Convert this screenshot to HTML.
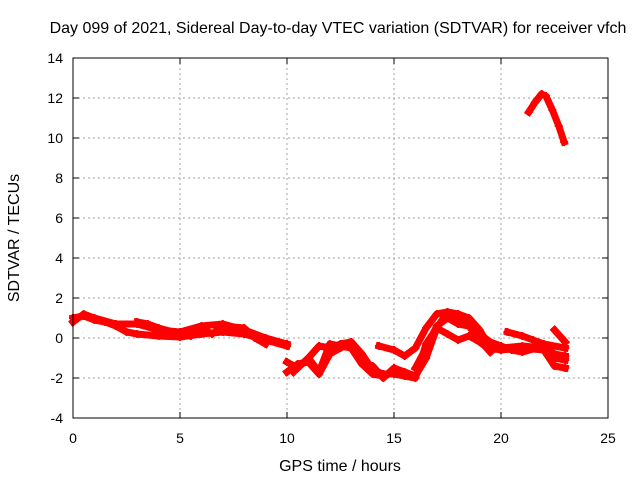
<!DOCTYPE html>
<html><head><meta charset="utf-8"><style>
body{margin:0;background:#fff;}
svg{display:block;font-family:"Liberation Sans",sans-serif;}
</style></head><body>
<svg id="chart" width="640" height="480">
<text x="338" y="33" text-anchor="middle" font-size="16">Day 099 of 2021, Sidereal Day-to-day VTEC variation (SDTVAR) for receiver vfch</text>
<text x="340" y="471" text-anchor="middle" font-size="16">GPS time / hours</text>
<text transform="translate(19,238) rotate(-90)" text-anchor="middle" font-size="16">SDTVAR / TECUs</text>
<g id="grid"></g><g id="ticks"></g><g id="series"></g>
<rect x="73" y="58" width="535" height="360" fill="none" stroke="#000" stroke-width="1"/>
</svg>
<script>
const xTicks=[0,5,10,15,20,25];
const yTicks=[-4,-2,0,2,4,6,8,10,12,14];
const s1=[[0,1.0],[0.5,1.1],[1,0.9],[1.5,0.8],[2,0.6],[2.5,0.3],[3,0.2],[4,0.1],[5,0.05],[6,0.2],[7,0.3],[8,0.2],[9,-0.1],[10,-0.4]];
const s2=[[0,0.8],[0.5,1.2],[1,1.0],[2,0.7],[3,0.7],[4,0.4],[5,0.3],[6,0.6],[7,0.7],[8,0.4],[9,0.0],[10,-0.3]];
const s3=[[3,0.8],[3.5,0.7],[4,0.5],[5,0.2],[5.5,0.1],[6,0.5],[6.5,0.2],[7,0.6],[8,0.5],[8.5,0.0],[9,-0.3]];
const s4=[[10,-1.2],[10.5,-1.5],[11,-1.0],[11.5,-0.4],[12,-0.5],[12.5,-0.3],[13,-0.2],[13.5,-1.2],[14,-1.4],[14.5,-2.0],[15,-1.5],[15.5,-1.7],[16,-1.9],[16.5,-1.0],[17,0.5],[17.5,1.3],[18,1.2],[18.5,1.0],[19,0.4],[19.5,-0.5],[20,-0.6],[21,-0.5],[22,-0.6],[22.5,-1.4],[23,-1.5]];
const s5=[[10,-1.7],[10.5,-1.3],[11,-1.2],[11.5,-1.8],[12,-0.8],[12.5,-0.5],[13,-0.2],[13.5,-0.8],[14,-1.6],[14.5,-1.8],[15,-1.8],[15.5,-1.9],[16,-2.0],[16.5,-0.3],[17,0.5],[17.5,0.2],[18,-0.1],[18.5,0.1],[19,-0.2],[19.5,-0.6],[20,-0.5],[21,-0.4],[22,-0.5],[22.5,-1.0],[23,-1.1]];
const s6=[[10.3,-1.7],[11,-1.0],[11.5,-1.7],[12,-0.3],[12.5,-0.4],[13,-0.5],[13.5,-1.3],[14,-1.8],[14.5,-1.9]];
const s7=[[14.3,-0.4],[15,-0.6],[15.5,-0.9],[16,-0.5],[16.5,0.5],[17,1.2],[17.5,1.3],[18,1.0],[18.5,0.7],[19,0.2],[19.5,-0.2],[20,-0.4],[20.5,-0.6],[21,-0.7],[22,-0.4],[22.5,-0.8],[23,-0.9]];
const s8=[[16,-1.5],[16.5,-0.5],[17,0.6],[17.5,1.0],[18,0.7],[18.5,0.6],[19,-0.1],[19.5,-0.7]];
const s9=[[20.3,0.3],[21,0.1],[21.5,-0.1],[22,-0.3],[23,-0.5]];
const s10=[[22.5,0.4],[23,-0.2]];
const s11=[[21.3,11.3],[21.6,11.8],[21.9,12.2],[22.1,12.1],[22.4,11.4],[22.7,10.6],[22.95,9.8]];
const allSeries=[s1,s2,s3,s4,s5,s6,s7,s8,s9,s10,s11];
const X=v=>73+v*535/25, Y=v=>338-v*20;
const NS='http://www.w3.org/2000/svg';
const grid=document.getElementById('grid'),ticks=document.getElementById('ticks'),ser=document.getElementById('series');
function mk(tag,attrs,parent){const e=document.createElementNS(NS,tag);for(const k in attrs)e.setAttribute(k,attrs[k]);parent.appendChild(e);return e;}
xTicks.forEach(t=>{const x=X(t);
 if(t>0&&t<25){const g=mk('line',{x1:x,x2:x,y1:58,y2:418,stroke:'#a0a0a0','stroke-dasharray':'2,3'},grid);
 
 }
 mk('line',{x1:x,x2:x,y1:418,y2:412,stroke:'#000'},ticks);mk('line',{x1:x,x2:x,y1:58,y2:64,stroke:'#000'},ticks);
 const l=mk('text',{x:x,y:443,'text-anchor':'middle','font-size':'14'},ticks);l.textContent=t;
 
 });
yTicks.forEach(t=>{const y=Y(t);
 if(t>-4&&t<14){const g=mk('line',{x1:73,x2:608,y1:y,y2:y,stroke:'#a0a0a0','stroke-dasharray':'2,3'},grid);
 
 }
 mk('line',{x1:73,x2:79,y1:y,y2:y,stroke:'#000'},ticks);mk('line',{x1:608,x2:602,y1:y,y2:y,stroke:'#000'},ticks);
 const l=mk('text',{x:63,y:y+5,'text-anchor':'end','font-size':'14'},ticks);l.textContent=t;
 
 });
allSeries.forEach((s,i)=>{
 const p=mk('polyline',{points:s.map(d=>X(d[0])+','+Y(d[1])).join(' '),fill:'none',stroke:'#ff0000','stroke-width':7,'stroke-linejoin':'round','stroke-linecap':'square'},ser);
 
 
 s.forEach(d=>{const x=X(d[0]),y=Y(d[1]);
  const m=mk('path',{d:`M${x-4},${y}H${x+4}M${x},${y-4}V${y+4}`,stroke:'#ff0000','stroke-width':2},ser);
  
  });
});
</script>
</body></html>
